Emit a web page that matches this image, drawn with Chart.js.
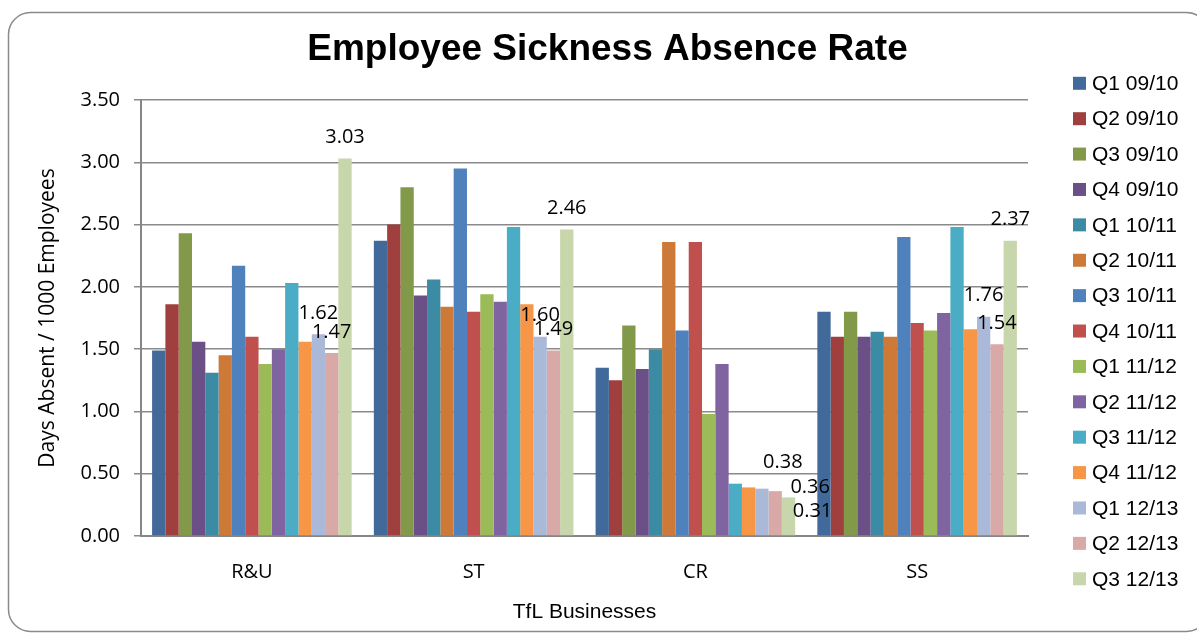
<!DOCTYPE html>
<html>
<head>
<meta charset="utf-8">
<title>Employee Sickness Absence Rate</title>
<script src="https://cdn.jsdelivr.net/npm/chart.js@4/dist/chart.umd.min.js"></script>
<style>
  html, body { margin: 0; padding: 0; background: #fff; }
  #wrap { width: 1197px; height: 633px; }
</style>
</head>
<body>
<div id="wrap"><canvas id="chart" width="1197" height="633"></canvas></div>
<script>
// categories
var businesses = ["R&U", "ST", "CR", "SS"];

// series, one per quarter
var q1_0910 = [1.49, 2.37, 1.35, 1.80];
var q2_0910 = [1.86, 2.50, 1.25, 1.60];
var q3_0910 = [2.43, 2.80, 1.69, 1.80];
var q4_0910 = [1.56, 1.93, 1.34, 1.60];
var q1_1011 = [1.31, 2.06, 1.50, 1.64];
var q2_1011 = [1.45, 1.84, 2.36, 1.60];
var q3_1011 = [2.17, 2.95, 1.65, 2.40];
var q4_1011 = [1.60, 1.80, 2.36, 1.71];
var q1_1112 = [1.38, 1.94, 0.98, 1.65];
var q2_1112 = [1.50, 1.88, 1.38, 1.79];
var q3_1112 = [2.03, 2.48, 0.42, 2.48];
var q4_1112 = [1.56, 1.86, 0.39, 1.66];
var q1_1213 = [1.62, 1.60, 0.38, 1.76];
var q2_1213 = [1.47, 1.49, 0.36, 1.54];
var q3_1213 = [3.03, 2.46, 0.31, 2.37];

var seriesNames = ["Q1 09/10", "Q2 09/10", "Q3 09/10", "Q4 09/10",
  "Q1 10/11", "Q2 10/11", "Q3 10/11", "Q4 10/11",
  "Q1 11/12", "Q2 11/12", "Q3 11/12", "Q4 11/12",
  "Q1 12/13", "Q2 12/13", "Q3 12/13"];
var seriesValues = [q1_0910, q2_0910, q3_0910, q4_0910,
  q1_1011, q2_1011, q3_1011, q4_1011,
  q1_1112, q2_1112, q3_1112, q4_1112,
  q1_1213, q2_1213, q3_1213];
var seriesColors = ['#416A9B', '#A0403E', '#82994A', '#6A5087',
  '#3B8BA5', '#CD7A38', '#4F81BD', '#C0504D',
  '#9BBB59', '#8064A2', '#4BACC6', '#F79646',
  '#AAB9D7', '#D9A9A8', '#C8D6AC'];

// y ticks
var yMin = 0, yMax = 3.5, yStep = 0.5;

// which series get value labels, and label nudges (series,category)
var labelledSeries = [12, 13, 14];
var labelNudge = { "12,2": [21, -26], "13,2": [35, -4], "14,2": [24, 14] };

var datasets = seriesNames.map(function (name, i) {
  return {
    label: name,
    data: seriesValues[i],
    backgroundColor: seriesColors[i],
    borderWidth: 0
  };
});

var frame = {
  id: 'frame',
  beforeDraw: function (chart) {
    var c = chart.ctx;
    c.save();
    c.fillStyle = '#fff';
    c.fillRect(0, 0, chart.width, chart.height);
    c.strokeStyle = '#8a8a8a';
    c.lineWidth = 1.5;
    c.beginPath();
    c.roundRect(8.5, 12.5, 1200, 619, 22);
    c.stroke();
    c.restore();
  }
};

var valueLabels = {
  id: 'valueLabels',
  afterDatasetsDraw: function (chart) {
    var c = chart.ctx;
    c.save();
    c.font = '20px "Open Sans"';
    c.fillStyle = '#000';
    c.textAlign = 'center';
    c.textBaseline = 'middle';
    labelledSeries.forEach(function (di) {
      var meta = chart.getDatasetMeta(di);
      meta.data.forEach(function (bar, j) {
        var n = labelNudge[di + ',' + j] || [0, -21];
        c.fillText(chart.data.datasets[di].data[j].toFixed(2), bar.x + n[0], bar.y + n[1]);
      });
    });
    c.restore();
  }
};

var sideLegend = {
  id: 'sideLegend',
  afterDraw: function (chart) {
    var c = chart.ctx;
    c.save();
    c.font = '21px "Liberation Sans", Arial';
    c.textAlign = 'left';
    c.textBaseline = 'middle';
    chart.data.datasets.forEach(function (ds, i) {
      var y = 83.3 + i * 35.39;
      c.fillStyle = ds.backgroundColor;
      c.fillRect(1073, y - 6.5, 13, 13);
      c.fillStyle = '#000';
      c.fillText(ds.label, 1092, y + 1);
    });
    c.restore();
  }
};

var ctx = document.getElementById('chart').getContext('2d');
var chart = new Chart(ctx, {
  type: 'bar',
  data: { labels: businesses, datasets: datasets },
  plugins: [frame, valueLabels, sideLegend],
  options: {
    responsive: false,
    animation: false,
    layout: { padding: { left: 18, right: 0, top: 0, bottom: 0 } },
    datasets: { bar: { categoryPercentage: 0.9, barPercentage: 1.0 } },
    plugins: {
      legend: { display: false },
      tooltip: { enabled: false },
      title: {
        display: true,
        text: 'Employee Sickness Absence Rate',
        color: '#000',
        font: { family: '"Liberation Sans", Arial', size: 37, weight: 'bold' },
        padding: { top: 27.8, bottom: 27.8 }
      }
    },
    scales: {
      x: {
        afterFit: function (s) { s.height = 97; },
        grid: { display: false, drawTicks: false },
        border: { display: true, color: '#868686', width: 2 },
        ticks: { color: '#000', padding: 24, font: { family: '"Open Sans"', size: 20 } },
        title: {
          display: true,
          text: 'TfL Businesses',
          color: '#000',
          font: { family: '"Liberation Sans", Arial', size: 21 },
          padding: { top: 0, bottom: 8.5 }
        }
      },
      y: {
        min: yMin,
        max: yMax,
        afterFit: function (s) { s.width = 123; },
        grid: { color: '#8a8a8a', lineWidth: 1.5, tickLength: 7 },
        border: { display: true, color: '#868686', width: 2 },
        ticks: {
          stepSize: yStep,
          color: '#000',
          padding: 14,
          font: { family: '"Open Sans"', size: 20 },
          callback: function (v) { return v.toFixed(2); }
        },
        title: {
          display: true,
          text: 'Days Absent / 1000 Employees',
          color: '#000',
          font: { family: '"Open Sans"', size: 21 },
          padding: { top: 17.4, bottom: 0 }
        }
      },
      // empty axis on the right, only there to keep room for the legend
      legendRoom: {
        type: 'linear',
        position: 'right',
        afterFit: function (s) { s.width = 169; },
        grid: { display: false },
        border: { display: false },
        ticks: { display: false }
      }
    }
  }
});
</script>
</body>
</html>
